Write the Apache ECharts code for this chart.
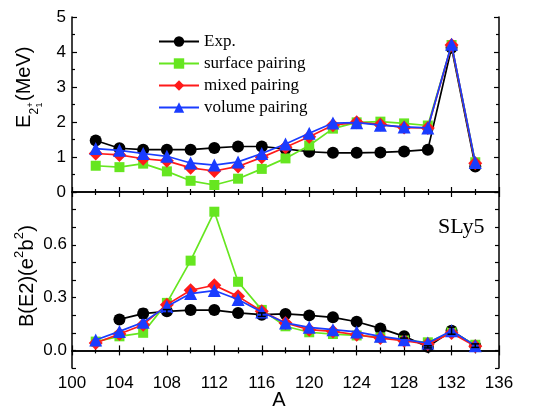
<!DOCTYPE html>
<html>
<head>
<meta charset="utf-8">
<script src="https://cdn.jsdelivr.net/npm/echarts@6/dist/echarts.min.js"></script>
<style>
html,body{margin:0;padding:0;background:#fff;}
#chart{width:539px;height:407px;}
</style>
</head>
<body>
<div id="chart"></div>
<script>
// ---- data ----
var massNumbers = [102,104,106,108,110,112,114,116,118,120,122,124,126,128,130,132,134];
var seriesNames = ['Exp.', 'surface pairing', 'mixed pairing', 'volume pairing'];

// E(2+_1) in MeV
var e2Exp     = [1.47,1.25,1.21,1.21,1.21,1.26,1.30,1.30,1.23,1.15,1.12,1.12,1.13,1.16,1.21,4.12,0.73];
var e2Surface = [0.75,0.71,0.81,0.59,0.32,0.20,0.38,0.66,0.96,1.33,1.81,1.99,2.01,1.96,1.90,4.20,0.85];
var e2Mixed   = [1.10,1.06,0.95,0.89,0.69,0.60,0.73,0.99,1.28,1.58,1.91,1.99,1.93,1.84,1.83,4.20,0.82];
var e2Volume  = [1.24,1.19,1.10,1.02,0.83,0.77,0.86,1.10,1.37,1.68,1.97,1.98,1.91,1.86,1.83,4.22,0.84];

// B(E2) in e^2 b^2
var be2Exp     = [null,0.176,0.209,0.222,0.229,0.229,0.213,0.203,0.207,0.199,0.188,0.163,0.125,0.080,0.020,0.112,0.027];
var be2ExpErr  = [null,0.020,0.025,0.010,0.008,0.008,0.008,0.010,0.008,0.008,0.008,0.008,0.008,0.010,0.006,0.020,0.010];
var be2Surface = [0.050,0.080,0.100,0.270,0.510,0.788,0.390,0.230,0.137,0.103,0.093,0.085,0.074,0.057,0.046,0.105,0.032];
var be2Mixed   = [0.042,0.093,0.146,0.260,0.342,0.370,0.307,0.222,0.156,0.118,0.108,0.089,0.070,0.055,0.036,0.099,0.023];
var be2Volume  = [0.059,0.108,0.160,0.250,0.323,0.340,0.289,0.218,0.156,0.131,0.118,0.105,0.080,0.061,0.042,0.112,0.027];

// ---- styles ----
var colors = ['#000000', '#66e620', '#ff1a1a', '#1a3cff'];
var symbols = ['circle', 'rect', 'diamond', 'triangle'];
var symbolSizes = [12, 10, 14, 13];
var sans = 'Liberation Sans, Arial, sans-serif';
var serif = 'Liberation Serif, Times New Roman, serif';

function pairs(vals){ return massNumbers.map(function(a,i){ return [a, vals[i]]; }); }

var chart = echarts.init(document.getElementById('chart'), null, {renderer:'canvas'});

var axisLineStyle = {show:true, lineStyle:{color:'#000', width:1.5}};
function xAx(grid, pos, labels){
  return {
    type:'value', gridIndex:grid, position:pos, min:100, max:136, interval:4,
    axisLine:axisLineStyle,
    axisTick:{show:true, inside:true, length:5, lineStyle:{color:'#000', width:1.2}},
    minorTick:{show:true, splitNumber:2, length:3, lineStyle:{color:'#000', width:1.2}},
    splitLine:{show:false}, minorSplitLine:{show:false},
    axisLabel:{show:labels, color:'#000', fontFamily:sans, fontSize:17, margin:7}
  };
}
function yTop(pos, labels){
  return {
    type:'value', gridIndex:0, position:pos, min:0, max:5, interval:1,
    axisLine:axisLineStyle,
    axisTick:{show:true, inside:true, length:5, lineStyle:{color:'#000', width:1.2}},
    minorTick:{show:true, splitNumber:2, length:3, lineStyle:{color:'#000', width:1.2}},
    splitLine:{show:false},
    axisLabel:{show:labels, color:'#000', fontFamily:sans, fontSize:17, margin:6}
  };
}
function yBot(pos, labels){
  return {
    type:'value', gridIndex:1, position:pos, min:-0.1, max:0.9, interval:0.1,
    axisLine:axisLineStyle,
    axisTick:{show:true, inside:true, length:4, lineStyle:{color:'#000', width:1.2}},
    splitLine:{show:false},
    axisLabel:{show:labels, color:'#000', fontFamily:sans, fontSize:17, margin:5,
      formatter:function(v){
        var k = Math.round(v*10);
        if (k >= 0 && k <= 6 && k % 3 === 0) return (k/10).toFixed(1);
        return '';
      }}
  };
}

var series = [];
var topData = [e2Exp, e2Surface, e2Mixed, e2Volume];
var botData = [be2Exp, be2Surface, be2Mixed, be2Volume];
for (var i=0;i<4;i++){
  series.push({
    name:seriesNames[i], type:'line', xAxisIndex:0, yAxisIndex:0,
    data:pairs(topData[i]), symbol:symbols[i], symbolSize:symbolSizes[i],
    showAllSymbol:true, color:colors[i],
    lineStyle:{color:colors[i], width:1.7}, itemStyle:{color:colors[i]},
    animation:false, z:2+i
  });
}
for (var j=0;j<4;j++){
  series.push({
    name:seriesNames[j], type:'line', xAxisIndex:2, yAxisIndex:2,
    data:pairs(botData[j]), symbol:symbols[j], symbolSize:symbolSizes[j],
    showAllSymbol:true, color:colors[j], connectNulls:false,
    lineStyle:{color:colors[j], width:1.7}, itemStyle:{color:colors[j]},
    animation:false, z:2+j
  });
}
// error bars of experimental B(E2)
series.push({
  type:'custom', xAxisIndex:2, yAxisIndex:2, z:10, animation:false, silent:true,
  data: massNumbers.map(function(a,i){ return [a, be2Exp[i], be2ExpErr[i]]; })
        .filter(function(d){ return d[1] !== null; }),
  renderItem:function(params, api){
    var x = api.value(0), y = api.value(1), e = api.value(2);
    var hi = api.coord([x, y+e]), lo = api.coord([x, y-e]);
    var w = 4;
    var st = {stroke:'#000', lineWidth:1.5};
    return {type:'group', children:[
      {type:'line', shape:{x1:hi[0], y1:hi[1], x2:lo[0], y2:lo[1]}, style:st},
      {type:'line', shape:{x1:hi[0]-w, y1:hi[1], x2:hi[0]+w, y2:hi[1]}, style:st},
      {type:'line', shape:{x1:lo[0]-w, y1:lo[1], x2:lo[0]+w, y2:lo[1]}, style:st}
    ]};
  }
});

var option = {
  backgroundColor:'#fff',
  animation:false,
  grid:[
    {left:72, right:40, top:17, height:175},
    {left:72, right:40, top:192, height:176}
  ],
  xAxis:[ xAx(0,'bottom',false), xAx(0,'top',false), xAx(1,'bottom',true), xAx(1,'top',false) ],
  yAxis:[ yTop('left',true), yTop('right',false), yBot('left',true), yBot('right',false) ],
  legend:{
    show:true, orient:'vertical', left:153, top:28,
    data:seriesNames, itemWidth:40, itemHeight:13, itemGap:5,
    textStyle:{fontFamily:serif, fontSize:17, color:'#000'}
  },
  series:series,
  graphic:[
    {type:'text', x:438, y:227, style:{text:'SLy5', font:'22px ' + serif, fill:'#000', verticalAlign:'middle', align:'left'}},
    {type:'text', x:279, y:400, style:{text:'A', font:'20px ' + sans, fill:'#000', verticalAlign:'middle', align:'center'}},
    {type:'group', x:24, y:128, rotation:Math.PI/2, children:[
      {type:'text', x:0, y:0, style:{text:'E', font:'20px ' + sans, fill:'#000', verticalAlign:'middle', align:'left'}},
      {type:'text', x:13.5, y:11, style:{text:'2', font:'12px ' + sans, fill:'#000', verticalAlign:'middle', align:'left'}},
      {type:'text', x:20.5, y:7, style:{text:'+', font:'9px ' + sans, fill:'#000', verticalAlign:'middle', align:'left'}},
      {type:'text', x:20.5, y:16, style:{text:'1', font:'9px ' + sans, fill:'#000', verticalAlign:'middle', align:'left'}},
      {type:'text', x:27, y:0, style:{text:'(MeV)', font:'20px ' + sans, fill:'#000', verticalAlign:'middle', align:'left'}}
    ]},
    {type:'group', x:27, y:327, rotation:Math.PI/2, children:[
      {type:'text', x:0, y:0, style:{text:'B(E2)(e', font:'20px ' + sans, fill:'#000', verticalAlign:'middle', align:'left'}},
      {type:'text', x:69, y:-8, style:{text:'2', font:'13px ' + sans, fill:'#000', verticalAlign:'middle', align:'left'}},
      {type:'text', x:76.5, y:0, style:{text:'b', font:'20px ' + sans, fill:'#000', verticalAlign:'middle', align:'left'}},
      {type:'text', x:87.8, y:-8, style:{text:'2', font:'13px ' + sans, fill:'#000', verticalAlign:'middle', align:'left'}},
      {type:'text', x:95.3, y:0, style:{text:')', font:'20px ' + sans, fill:'#000', verticalAlign:'middle', align:'left'}}
    ]}
  ]
};
chart.setOption(option);
</script>
</body>
</html>
